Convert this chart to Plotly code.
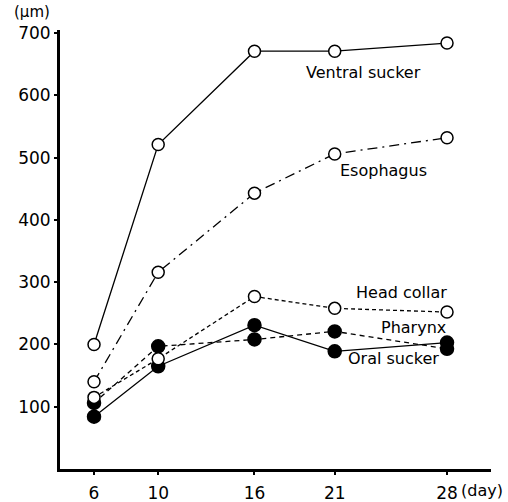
import plotly.graph_objects as go

days = [6, 10, 16, 21, 28]
ventral_sucker = [200, 521, 671, 671, 684]
esophagus = [140, 316, 443, 506, 532]
head_collar = [115, 177, 277, 258, 252]
pharynx = [106, 197, 208, 221, 193]
oral_sucker = [84, 165, 231, 189, 203]
y_ticks = [100, 200, 300, 400, 500, 600, 700]

FONT = "DejaVu Sans"

fig = go.Figure()

def add(y, dash, filled, name):
    fig.add_trace(go.Scatter(
        x=days, y=y, mode="lines+markers", name=name,
        line=dict(color="black", width=1.3, dash=dash),
        marker=dict(symbol="circle", size=13 if filled else 12,
                    color="black" if filled else "white",
                    line=dict(color="black", width=1.5)),
        cliponaxis=False, showlegend=False))

add(ventral_sucker, "solid", False, "Ventral sucker")
add(esophagus, "10px,5px,2px,5px", False, "Esophagus")
add(oral_sucker, "solid", True, "Oral sucker")
add(pharynx, "5px,4px", True, "Pharynx")
add(head_collar, "4px,3px", False, "Head collar")

labels = [
    ("Ventral sucker", 22.82, 636),
    ("Esophagus", 24.07, 479),
    ("Head collar", 25.19, 283),
    ("Pharynx", 25.88, 228),
    ("Oral sucker", 24.69, 177),
]
for text, x, y in labels:
    fig.add_annotation(x=x, y=y, text=text, showarrow=False,
                       font=dict(family=FONT, size=16, color="black"),
                       xanchor="center", yanchor="middle")

fig.add_annotation(xref="paper", yref="paper", x=0.926, y=-0.048, text="(day)",
                   showarrow=False, xanchor="left", yanchor="middle",
                   font=dict(family=FONT, size=16, color="black"))
fig.add_annotation(xref="paper", yref="paper", x=-0.065, y=1.04, text="(μm)",
                   showarrow=False, xanchor="center", yanchor="middle",
                   font=dict(family=FONT, size=15, color="black"))

fig.update_layout(
    width=508, height=502,
    margin=dict(l=60, r=17, t=30, b=33),
    paper_bgcolor="white", plot_bgcolor="white",
    font=dict(family=FONT, size=17, color="black"),
)
fig.update_xaxes(range=[3.88, 30.74], tickvals=days, ticktext=[str(d) for d in days],
                 showgrid=False, zeroline=False, showline=True, linecolor="black",
                 linewidth=3, ticks="outside", ticklen=3, tickwidth=2, tickcolor="black",
                 ticklabelstandoff=4, automargin=False, tickfont=dict(family=FONT, size=17))
fig.update_yaxes(range=[0, 705], tickvals=y_ticks, showgrid=False, zeroline=False,
                 showline=True, linecolor="black", linewidth=3, ticks="outside",
                 ticklen=3, tickwidth=2, tickcolor="black", ticklabelstandoff=0,
                 automargin=False, tickfont=dict(family=FONT, size=17))

fig.write_html("out.html")
